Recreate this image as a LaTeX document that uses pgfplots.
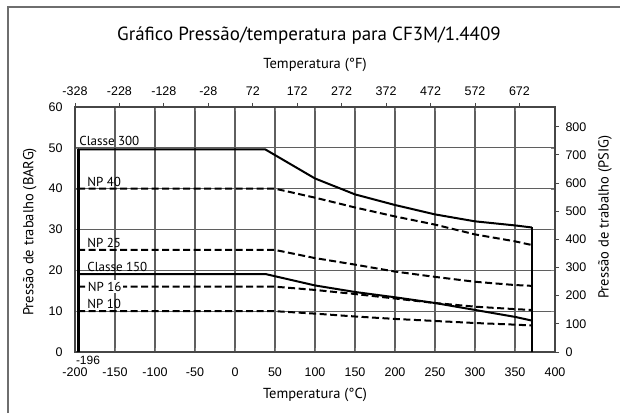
\documentclass[border=0pt]{standalone}
\usepackage{pgfplots}
\pgfplotsset{compat=1.18}
\usepackage{fontspec}
\setmainfont{PT Sans}
\newfontfamily\arialfont{Liberation Sans}
\definecolor{gridcol}{RGB}{95,95,95}
\definecolor{framecol}{RGB}{110,110,110}
\definecolor{axiscol}{RGB}{70,70,70}

% Classe 300 / Classe 150 and NP curves, pressure in bar vs temperature in degC
\pgfplotstableread{
t p
-196 49.6
38 49.6
100 42.5
150 38.6
200 36.0
250 33.7
300 32.0
350 31.0
371 30.5
}\classeiii
\pgfplotstableread{
t p
-196 19.1
38 19.1
100 16.3
150 14.7
200 13.4
250 12.0
300 10.3
350 8.6
371 7.7
}\classei
\pgfplotstableread{
t p
-196 40
50 40
100 37.8
150 35.4
200 33.2
250 31.2
300 28.8
350 27.1
371 26.2
}\npforty
\pgfplotstableread{
t p
-196 25
50 25
100 23.0
150 21.4
200 19.7
250 18.4
300 17.2
350 16.4
371 16.2
}\nptwentyfive
\pgfplotstableread{
t p
-196 16
50 16
100 15.2
150 14.2
200 13.1
250 12.0
300 11.1
350 10.5
371 10.3
}\npsixteen
\pgfplotstableread{
t p
-196 10
50 10
100 9.4
150 8.7
200 8.1
250 7.6
300 7.1
350 6.7
371 6.5
}\npten

\begin{document}
\begin{tikzpicture}
\path[use as bounding box] (0,0) rectangle (620pt,413pt);
\draw[framecol, line width=1.2pt] (8pt,0) -- (8pt,406pt) -- (620pt,406pt);
\node[font=\fontsize{19}{22}\selectfont] at (309pt,377pt) {Gráfico Pressão/temperatura para CF3M/1.4409};

\begin{axis}[
  at={(75pt,61pt)}, anchor=south west,
  scale only axis, width=480pt, height=245pt,
  xmin=-200, xmax=400, ymin=0, ymax=60,
  xtick={-200,-150,...,400}, ytick={0,10,...,60},
  tick align=inside,
  grid=major,
  major grid style={draw=gridcol, line width=1.3pt},
  axis line style={draw=axiscol, line width=1.1pt},
  /pgf/number format/assume math mode=true,
  ticklabel style={font=\arialfont\fontsize{12.5}{14}\selectfont},
  xticklabel style={yshift=-12pt},
  yticklabel style={xshift=-9pt},
  xlabel={Temperatura (°C)},
  xlabel style={at={(axis description cs:0.5,-0.175)}, anchor=center, font=\fontsize{14.5}{16}\selectfont},
  ylabel={Pressão de trabalho (BARG)},
  ylabel style={at={(axis description cs:-0.094,0.49)}, anchor=center, rotate=0, font=\fontsize{14.5}{16}\selectfont},
  clip=false,
]
\addplot[black, line width=2pt] table[x=t,y=p] {\classeiii};
\addplot[black, line width=2pt] table[x=t,y=p] {\classei};
\addplot[black, line width=2pt, dash pattern=on 7pt off 3.5pt] table[x=t,y=p] {\npforty};
\addplot[black, line width=2pt, dash pattern=on 7pt off 3.5pt] table[x=t,y=p] {\nptwentyfive};
\addplot[black, line width=2pt, dash pattern=on 7pt off 3.5pt] table[x=t,y=p] {\npsixteen};
\addplot[black, line width=2pt, dash pattern=on 7pt off 3.5pt] table[x=t,y=p] {\npten};
% vertical limits at -196 and 371 degC
\addplot[black, line width=2.8pt] coordinates {(-196,0) (-196,49.6)};
\addplot[black, line width=2.4pt] coordinates {(371,0) (371,30.5)};

\begin{scope}[font=\fontsize{13}{15}\selectfont, inner sep=1pt]
\node[anchor=south west] at (axis cs:-196,50.2) {Classe 300};
\node[anchor=south west] at (axis cs:-186,40.3) {NP 40};
\node[anchor=south west] at (axis cs:-186,25.3) {NP 25};
\node[anchor=south west] at (axis cs:-186,19.4) {Classe 150};
\node[anchor=west, fill=white, inner sep=1.5pt] at (axis cs:-186,16) {NP 16};
\node[anchor=south west] at (axis cs:-186,10.3) {NP 10};
\end{scope}
\node[anchor=north west, inner sep=0pt, font=\arialfont\fontsize{12}{13}\selectfont] at (axis cs:-199,-1.0) {-196};
\end{axis}

\begin{axis}[
  at={(75pt,61pt)}, anchor=south west,
  scale only axis, width=480pt, height=245pt,
  xmin=-328, xmax=752, ymin=0, ymax=870.23,
  xtick={-328,-228,...,672}, ytick={0,100,...,800},
  axis x line*=top, axis y line*=right,
  tick align=outside, major tick length=4pt,
  axis line style={draw=axiscol, line width=1.1pt},
  tick style={draw=axiscol, line width=0.9pt},
  /pgf/number format/assume math mode=true,
  ticklabel style={font=\arialfont\fontsize{12.5}{14}\selectfont},
  xticklabel style={yshift=4pt},
  yticklabel style={xshift=3pt},
  xlabel={Temperatura (°F)},
  xlabel style={at={(axis description cs:0.5,1.17)}, anchor=center, font=\fontsize{14.5}{16}\selectfont},
  ylabel={Pressão de trabalho (PSIG)},
  ylabel style={at={(axis description cs:1.104,0.55)}, anchor=center, font=\fontsize{14.5}{16}\selectfont},
]
\addplot[draw=none] coordinates {(-328,0) (752,870)};
\end{axis}
\end{tikzpicture}
\end{document}
